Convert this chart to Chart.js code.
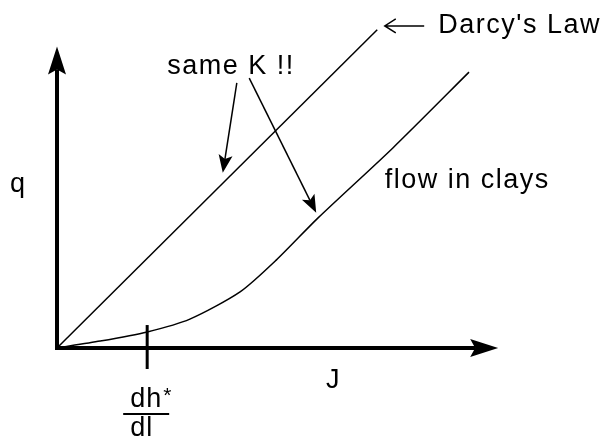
<!DOCTYPE html>
<html>
<head>
<meta charset="utf-8">
<script src="https://cdn.jsdelivr.net/npm/chart.js@4/dist/chart.umd.min.js"></script>
<style>
html, body { margin: 0; padding: 0; background: #fff; }
#wrap { width: 607px; height: 438px; }
</style>
</head>
<body>
<div id="wrap"><canvas id="chart" width="607" height="438"></canvas></div>
<script>
// hydraulic gradient J (x) against discharge q (y), arbitrary units
const darcyJ = [0, 59.3];
const darcyQ = [0, 97.0];
const clayJ = [0, 8.0, 16.7, 24.6, 33.9, 40.6, 48.3, 62.2, 76.3];
const clayQ = [0, 2.1, 4.9, 8.8, 17.1, 26.8, 39.6, 61.0, 84.1];
const thresholdJ = 16.7;          // dh*/dl
const axisEnd = { J: 81.7, q: 91.9 };

// text and pointer positions in data units
const notes = [
    { text: 'q', x: -8.7, y: 47.6 },
    { text: 'J', x: 49.8, y: -12.2 },
    { text: 'same K !!', x: 20.4, y: 83.5 },
    { text: "Darcy's Law", x: 70.6, y: 96.0 },
    { text: 'flow in clays', x: 60.7, y: 48.8 }
];
const pointers = [
    { from: [33.3, 80.8], to: [30.7, 53.4] },
    { from: [35.6, 82.3], to: [48.0, 41.2] }
];

const toPts = (xs, ys) => xs.map((x, i) => ({ x: x, y: ys[i] }));

function filledArrow(ctx, x0, y0, x1, y1, len, half, notch, width) {
    const dx = x1 - x0, dy = y1 - y0;
    const d = Math.hypot(dx, dy);
    const ux = dx / d, uy = dy / d;
    const px = -uy, py = ux;
    const bx = x1 - ux * len, by = y1 - uy * len;
    const nx = x1 - ux * (len - notch), ny = y1 - uy * (len - notch);
    ctx.lineWidth = width;
    ctx.beginPath();
    ctx.moveTo(x0, y0);
    ctx.lineTo(nx, ny);
    ctx.stroke();
    ctx.beginPath();
    ctx.moveTo(x1, y1);
    ctx.lineTo(bx + px * half, by + py * half);
    ctx.lineTo(nx, ny);
    ctx.lineTo(bx - px * half, by - py * half);
    ctx.closePath();
    ctx.fill();
}

const sketch = {
    id: 'sketch',
    afterDatasetsDraw(chart) {
        const ctx = chart.ctx;
        const xs = chart.scales.x, ys = chart.scales.y;
        const X = v => xs.getPixelForValue(v);
        const Y = v => ys.getPixelForValue(v);
        ctx.save();
        ctx.strokeStyle = '#000';
        ctx.fillStyle = '#000';
        ctx.lineCap = 'butt';

        // axes
        filledArrow(ctx, X(0) - 2, Y(0), X(axisEnd.J), Y(0), 28, 9, 5, 4);
        filledArrow(ctx, X(0), Y(0) + 2, X(0), Y(axisEnd.q), 28, 9, 5, 4);

        // threshold tick
        ctx.lineWidth = 3;
        ctx.beginPath();
        ctx.moveTo(X(thresholdJ), Y(7.0));
        ctx.lineTo(X(thresholdJ), Y(-6.4));
        ctx.stroke();

        // pointers from "same K !!"
        pointers.forEach(p => {
            filledArrow(ctx, X(p.from[0]), Y(p.from[1]), X(p.to[0]), Y(p.to[1]), 18, 7, 4, 1.5);
        });

        // small open arrow before "Darcy's Law"
        const ax0 = X(68.0), ax1 = X(60.7), ay = Y(98.2);
        ctx.lineWidth = 1.5;
        ctx.beginPath();
        ctx.moveTo(ax0, ay);
        ctx.lineTo(ax1, ay);
        ctx.moveTo(ax1 + 11, ay - 7);
        ctx.lineTo(ax1, ay);
        ctx.lineTo(ax1 + 11, ay + 7);
        ctx.stroke();

        // labels
        ctx.font = '27px "Liberation Sans", Arial, sans-serif';
        ctx.letterSpacing = '1.5px';
        ctx.textBaseline = 'alphabetic';
        ctx.textAlign = 'left';
        notes.forEach(n => ctx.fillText(n.text, X(n.x), Y(n.y)));

        // dh*/dl fraction under the tick
        const cx = X(thresholdJ);
        ctx.letterSpacing = '1px';
        ctx.fillText('dh', cx - 17, Y(-18.0));
        ctx.font = '21px "Liberation Sans", Arial, sans-serif';
        ctx.fillText('*', cx + 16, Y(-16.5));
        ctx.font = '27px "Liberation Sans", Arial, sans-serif';
        ctx.fillText('dl', cx - 17, Y(-26.8));
        ctx.lineWidth = 2;
        ctx.beginPath();
        ctx.moveTo(cx - 24, Y(-20.1));
        ctx.lineTo(cx + 22, Y(-20.1));
        ctx.stroke();

        ctx.restore();
    }
};

new Chart(document.getElementById('chart'), {
    type: 'scatter',
    data: {
        datasets: [
            {
                label: "Darcy's Law",
                data: toPts(darcyJ, darcyQ),
                showLine: true,
                borderColor: '#000',
                borderWidth: 1.5,
                pointRadius: 0,
                tension: 0,
                clip: false
            },
            {
                label: 'flow in clays',
                data: toPts(clayJ, clayQ),
                showLine: true,
                borderColor: '#000',
                borderWidth: 1.5,
                pointRadius: 0,
                tension: 0.25,
                clip: false
            }
        ]
    },
    options: {
        responsive: false,
        animation: false,
        layout: { padding: { left: 57, right: 10, top: 20, bottom: 90 } },
        scales: {
            x: { type: 'linear', min: 0, max: 100, display: false },
            y: { type: 'linear', min: 0, max: 100, display: false }
        },
        plugins: {
            legend: { display: false },
            tooltip: { enabled: false }
        }
    },
    plugins: [sketch]
});
</script>
</body>
</html>
